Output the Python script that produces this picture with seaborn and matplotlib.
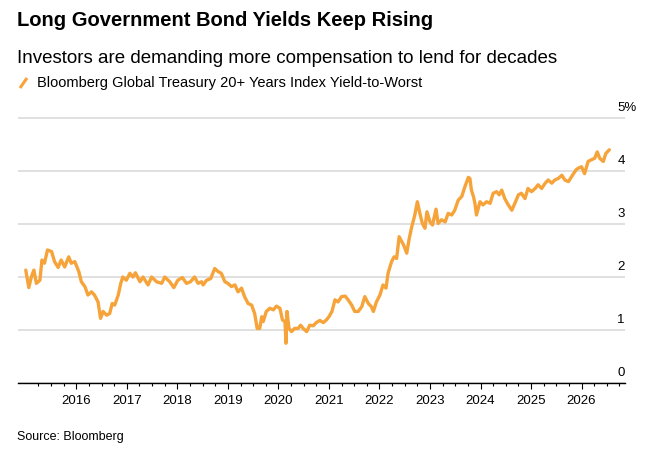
import numpy as np
import pandas as pd
import seaborn as sns
import matplotlib.pyplot as plt
from matplotlib.lines import Line2D
from matplotlib.ticker import FixedLocator
from matplotlib.transforms import ScaledTranslation

### DATA (decimal year, yield in %)

years = [2015.00, 2015.06, 2015.11, 2015.16, 2015.21, 2015.28, 2015.32, 2015.37, 2015.43, 2015.51,
         2015.57, 2015.64, 2015.70, 2015.77, 2015.85, 2015.90, 2015.97, 2016.05, 2016.10, 2016.17,
         2016.23, 2016.30, 2016.36, 2016.43, 2016.48, 2016.53, 2016.60, 2016.66, 2016.71, 2016.76,
         2016.83, 2016.88, 2016.92, 2016.99, 2017.06, 2017.12, 2017.17, 2017.26, 2017.32, 2017.42,
         2017.49, 2017.59, 2017.69, 2017.75, 2017.85, 2017.93, 2018.01, 2018.10, 2018.18, 2018.26,
         2018.34, 2018.41, 2018.48, 2018.51, 2018.58, 2018.66, 2018.74, 2018.81, 2018.87, 2018.94,
         2019.00, 2019.07, 2019.14, 2019.20, 2019.27, 2019.33, 2019.40, 2019.47, 2019.53, 2019.58,
         2019.63, 2019.67, 2019.70, 2019.76, 2019.83, 2019.90, 2019.96, 2020.03, 2020.08, 2020.13,
         2020.15, 2020.17, 2020.21, 2020.26, 2020.32, 2020.39, 2020.44, 2020.49, 2020.56, 2020.62,
         2020.69, 2020.75, 2020.82, 2020.89, 2020.95, 2021.00, 2021.06, 2021.12, 2021.18, 2021.25,
         2021.32, 2021.38, 2021.45, 2021.51, 2021.58, 2021.65, 2021.71, 2021.78, 2021.84, 2021.88,
         2021.94, 2022.01, 2022.07, 2022.13, 2022.17, 2022.24, 2022.29, 2022.34, 2022.39, 2022.44,
         2022.48, 2022.54, 2022.59, 2022.64, 2022.70, 2022.75, 2022.80, 2022.85, 2022.90, 2022.94,
         2023.00, 2023.05, 2023.12, 2023.16, 2023.23, 2023.30, 2023.36, 2023.43, 2023.49, 2023.56,
         2023.63, 2023.69, 2023.76, 2023.79, 2023.82, 2023.86, 2023.89, 2023.92, 2023.99, 2024.05,
         2024.12, 2024.19, 2024.25, 2024.32, 2024.37, 2024.42, 2024.48, 2024.55, 2024.62, 2024.68,
         2024.75, 2024.81, 2024.88, 2024.94, 2025.01, 2025.08, 2025.14, 2025.21, 2025.28, 2025.34,
         2025.41, 2025.47, 2025.54, 2025.61, 2025.67, 2025.74, 2025.80, 2025.89, 2025.93, 2026.00,
         2026.06, 2026.13, 2026.19, 2026.26, 2026.31, 2026.36, 2026.43, 2026.48, 2026.55]

yields = [2.13, 1.80, 2.00, 2.13, 1.88, 1.94, 2.32, 2.26, 2.51, 2.48,
          2.29, 2.18, 2.32, 2.19, 2.38, 2.26, 2.29, 2.10, 1.91, 1.82,
          1.66, 1.72, 1.66, 1.53, 1.22, 1.35, 1.28, 1.31, 1.50, 1.47,
          1.66, 1.88, 2.00, 1.94, 2.07, 2.00, 2.08, 1.91, 2.00, 1.85,
          2.00, 1.91, 1.88, 2.00, 1.91, 1.80, 1.94, 1.99, 1.88, 1.91,
          2.00, 1.88, 1.91, 1.85, 1.94, 1.97, 2.16, 2.10, 2.07, 1.91,
          1.88, 1.82, 1.85, 1.72, 1.79, 1.63, 1.50, 1.47, 1.31, 1.03,
          1.03, 1.25, 1.16, 1.35, 1.41, 1.38, 1.45, 1.41, 1.19, 1.16,
          0.75, 1.35, 1.03, 0.97, 1.03, 1.03, 1.09, 1.03, 0.97, 1.09,
          1.08, 1.14, 1.18, 1.14, 1.19, 1.25, 1.35, 1.57, 1.53, 1.63,
          1.64, 1.57, 1.47, 1.35, 1.35, 1.44, 1.63, 1.50, 1.44, 1.35,
          1.53, 1.66, 1.85, 1.79, 2.07, 2.29, 2.38, 2.35, 2.76, 2.67,
          2.60, 2.45, 2.73, 2.95, 3.17, 3.42, 3.20, 3.01, 2.92, 3.23,
          3.04, 2.98, 3.28, 3.01, 3.08, 3.04, 3.20, 3.17, 3.26, 3.45,
          3.52, 3.70, 3.88, 3.86, 3.64, 3.52, 3.39, 3.17, 3.42, 3.36,
          3.42, 3.39, 3.58, 3.61, 3.55, 3.64, 3.48, 3.36, 3.26, 3.39,
          3.55, 3.58, 3.48, 3.67, 3.61, 3.67, 3.74, 3.67, 3.77, 3.83,
          3.77, 3.83, 3.86, 3.92, 3.83, 3.80, 3.89, 4.02, 4.05, 4.08,
          3.95, 4.18, 4.21, 4.24, 4.36, 4.24, 4.18, 4.33, 4.40]

year_ticks = [2016, 2017, 2018, 2019, 2020, 2021, 2022, 2023, 2024, 2025, 2026]
yield_ticks = [0, 1, 2, 3, 4, 5]
yield_labels = ['0', '1', '2', '3', '4', '5%']

title = 'Long Government Bond Yields Keep Rising'
subtitle = 'Investors are demanding more compensation to lend for decades'
series_name = 'Bloomberg Global Treasury 20+ Years Index Yield-to-Worst'
source = 'Source: Bloomberg'

df = pd.DataFrame({'year': years, 'yield': yields})

### PLOT

sns.set_theme(style='white')
plt.rcParams['font.family'] = ['Liberation Sans', 'DejaVu Sans']
plt.rcParams['text.color'] = 'black'
plt.rcParams['xtick.color'] = 'black'
plt.rcParams['ytick.color'] = 'black'

orange = '#F6A33A'

fig = plt.figure(figsize=(6.71, 4.67), dpi=100)
ax = fig.add_axes([18/671, 1 - 383/467, 607/671, 270.3/467])

sns.lineplot(data=df, x='year', y='yield', color=orange, linewidth=2.4, ax=ax)

ax.set_xlim(2014.846, 2026.86)
ax.set_ylim(0, 5.1)
ax.set_xlabel('')
ax.set_ylabel('')

# x axis: year labels, quarterly minor ticks
ax.xaxis.set_major_locator(FixedLocator(year_ticks))
ax.set_xticklabels([str(y) for y in year_ticks])
ax.xaxis.set_minor_locator(FixedLocator(
    [q for q in np.arange(2015.25, 2026.8, 0.25) if q not in year_ticks]))
ax.tick_params(axis='x', which='major', length=4, width=0.8, color='black',
               pad=5, labelsize=9.5, labelcolor='black', bottom=True)
ax.tick_params(axis='x', which='minor', length=2.3, width=0.8, color='black', bottom=True)

# y axis: labels at right, sitting above the gridlines
ax.yaxis.tick_right()
ax.set_yticks(yield_ticks)
ax.set_yticklabels(yield_labels)
ax.tick_params(axis='y', length=0, pad=-5.5, labelsize=9.5, labelcolor='black')
for lab in ax.get_yticklabels():
    lab.set_horizontalalignment('left')
    lab.set_verticalalignment('bottom')
    lab.set_transform(lab.get_transform() + ScaledTranslation(0, 3/72, fig.dpi_scale_trans))

ax.grid(axis='y', color='#DADADA', linewidth=1.2)
ax.set_axisbelow(True)
for s in ['top', 'left', 'right']:
    ax.spines[s].set_visible(False)
ax.spines['bottom'].set_color('black')
ax.spines['bottom'].set_linewidth(1.0)
ax.spines['bottom'].set_zorder(3)

# headline texts
fig.text(17/671, 1 - 26/467, title, fontsize=14.5, fontweight='bold', va='baseline')
fig.text(17/671, 1 - 63/467, subtitle, fontsize=13.5, va='baseline')
fig.text(37/671, 1 - 87/467, series_name, fontsize=10.55, va='baseline')
fig.add_artist(Line2D([20/671, 27/671], [1 - 88/467, 1 - 78/467],
                      color=orange, linewidth=2.2, solid_capstyle='butt'))
fig.text(17/671, 1 - 440/467, source, fontsize=9, va='baseline')

plt.savefig('out.png', dpi=100)
